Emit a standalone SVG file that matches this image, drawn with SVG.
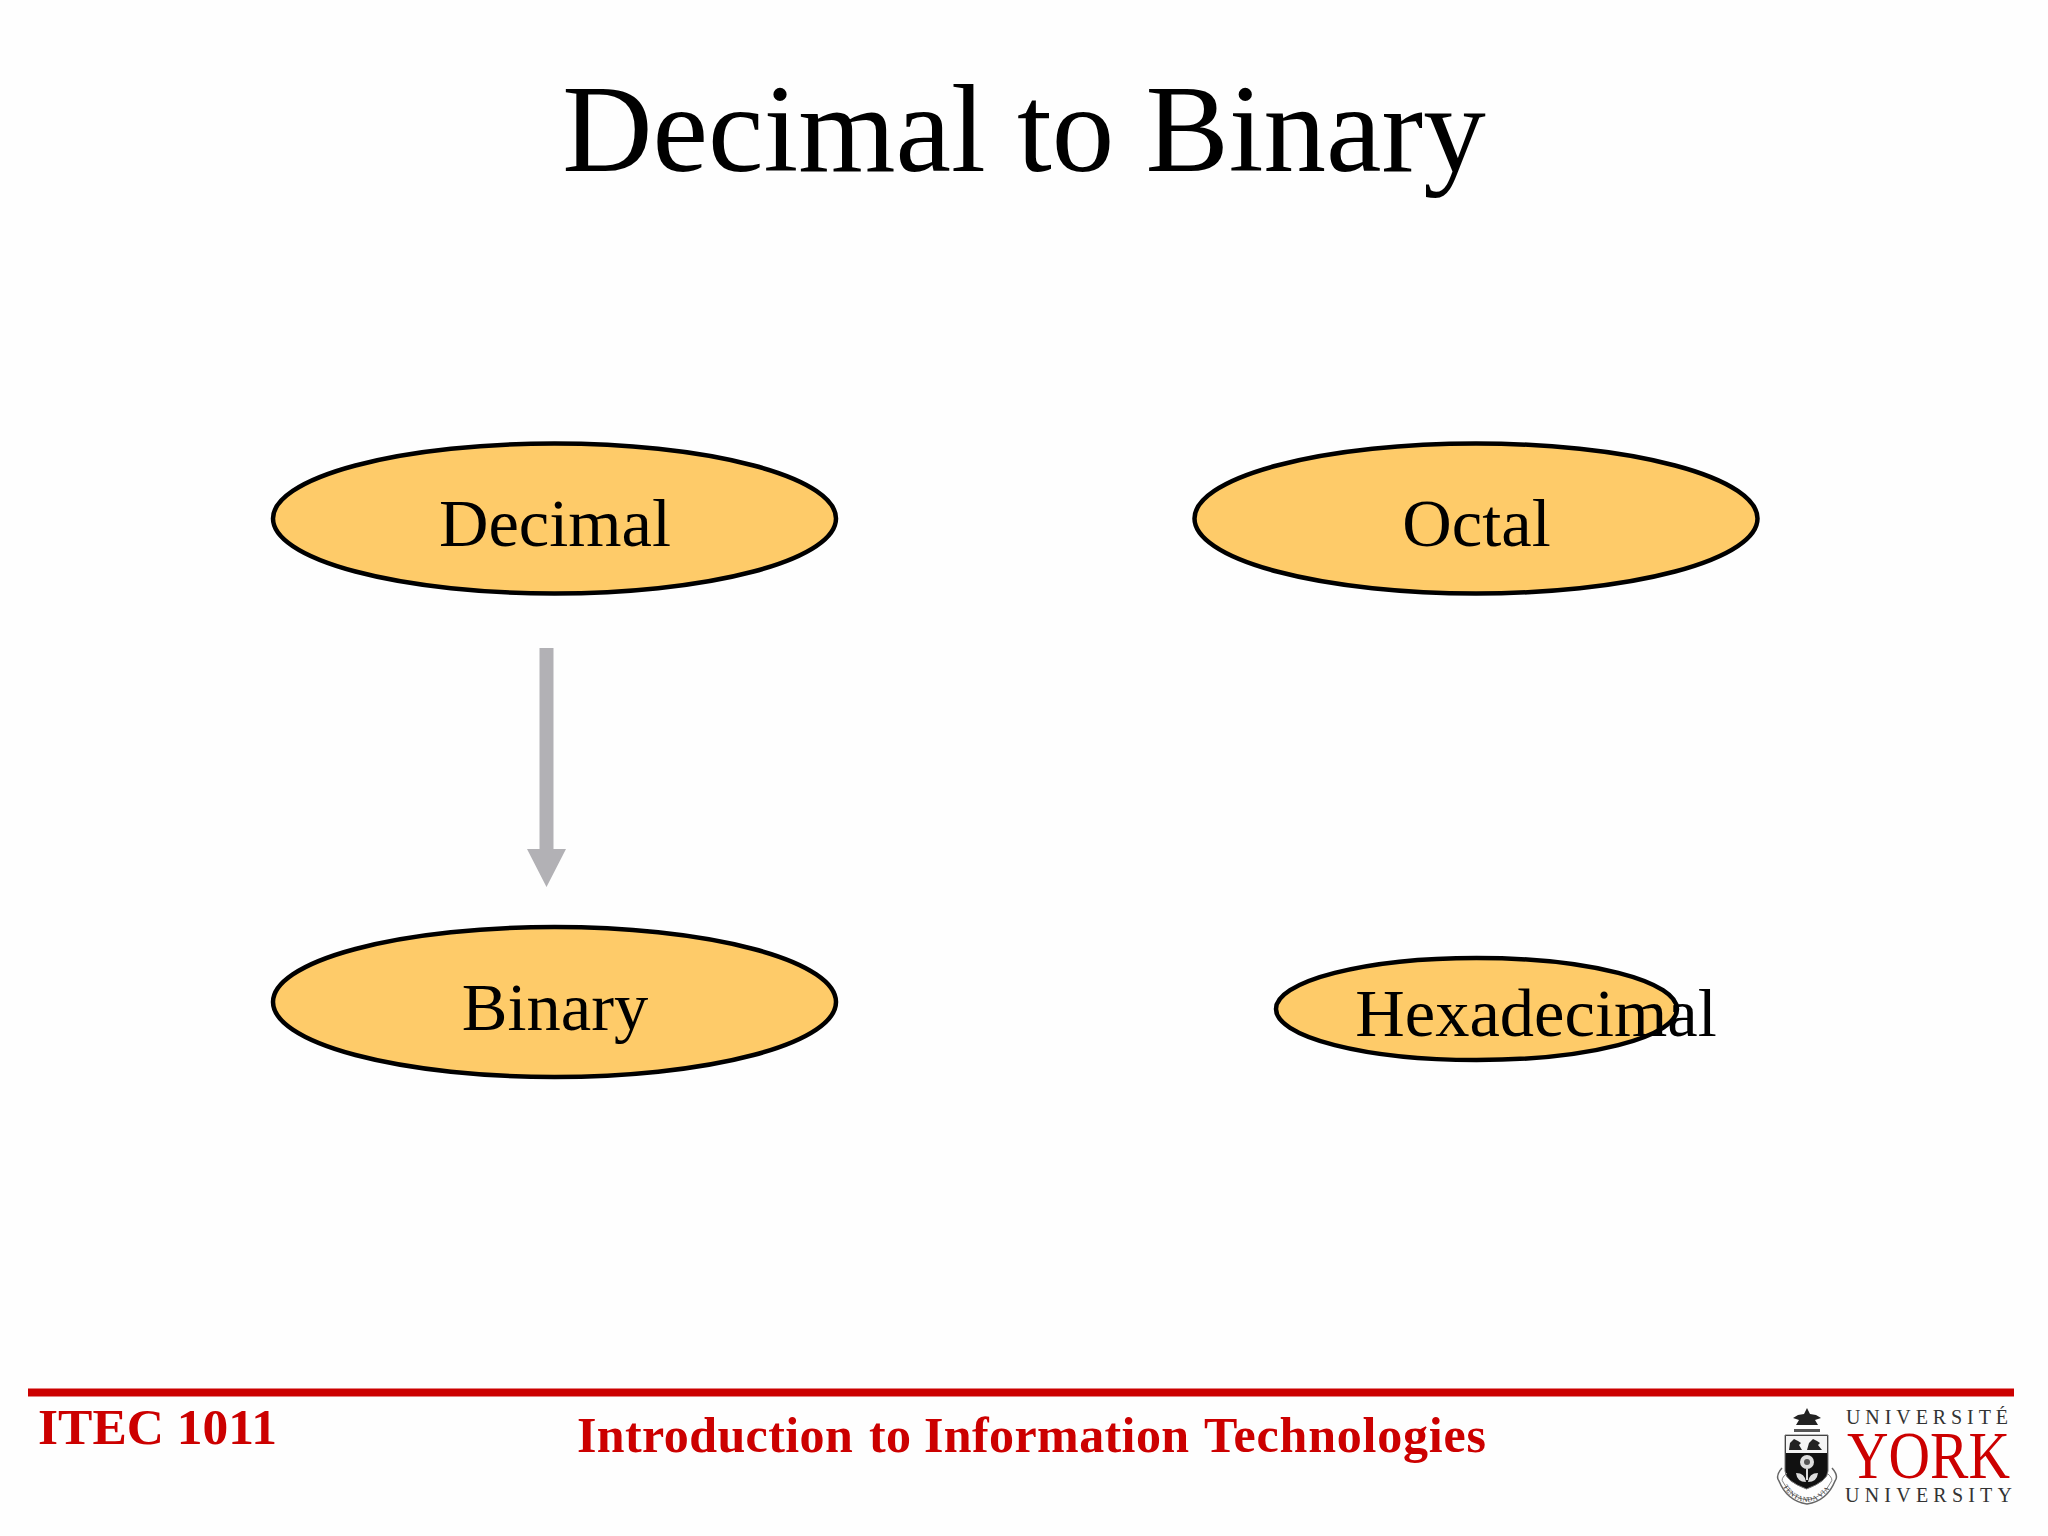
<svg xmlns="http://www.w3.org/2000/svg" width="2048" height="1536" viewBox="0 0 2048 1536">
<defs><path id="rib" d="M1780 1480q8 20 27 22q19-2 27-22"/></defs>
<style>
text{font-family:"Liberation Serif","Times New Roman",serif}
.n ellipse{fill:#fecb69;stroke:#000;stroke-width:4.500}
.n text{font-size:68.500px;fill:#000;text-anchor:middle}
.f{font-weight:bold;fill:#cc0000}
.l{fill:#333;font-size:20px}
</style>
<rect width="2048" height="1536" fill="#fefefe"/>
<text x="1024" y="170.500" font-size="125" text-anchor="middle" fill="#000">Decimal to Binary</text>
<g id="connectors"><path d="M539.500 648h14v201h12.500l-19.500 38-19.500-38h12.500z" fill="#b2b1b5"/></g>
<g id="decimal" class="n"><ellipse cx="554.500" cy="518.500" rx="281.500" ry="75"/><text x="555" y="546">Decimal</text></g>
<g id="octal" class="n"><ellipse cx="1476" cy="518.500" rx="281.500" ry="75"/><text x="1476.500" y="546">Octal</text></g>
<g id="binary" class="n"><ellipse cx="554.500" cy="1002" rx="281.500" ry="75"/><text x="555" y="1030">Binary</text></g>
<g id="hexadecimal" class="n"><ellipse cx="1476.500" cy="1009" rx="200.500" ry="51"/><text x="1536" y="1036">Hexadecimal</text></g>
<rect x="28" y="1388.500" width="1986" height="8" fill="#cc0000"/>
<text class="f" x="38" y="1444" font-size="51.500">ITEC 1011</text>
<text class="f" y="1452" font-size="50"><tspan x="577" letter-spacing=".4">Introduction</tspan> <tspan x="869" letter-spacing=".4">to</tspan> <tspan x="924" letter-spacing=".4">Information</tspan> <tspan x="1204" letter-spacing=".8">Technologies</tspan></text>
<g id="logo">
<path d="M1785 1435h43v36q0 10-21.500 18q-21.500-8-21.500-18z" fill="#111" stroke="#777" stroke-width="1"/>
<rect x="1786" y="1436" width="41" height="17" fill="#f4f4f4"/>
<path d="M1789 1450l1-7 4-4 4 2 3 2-2 2 3 5zM1807 1450l2-7 4-4 4 2 3 2-2 2 4 5z" fill="#222"/>
<circle cx="1807" cy="1462" r="7" fill="#ddd"/>
<circle cx="1807" cy="1462" r="3" fill="#555"/>
<path d="M1807 1469v11" stroke="#ddd" stroke-width="2"/>
<path d="M1796 1473q9 0 10 9q-9 0-10-9zM1818 1473q-9 0-10 9q9 0 10-9z" fill="#ddd"/>
<path d="M1782 1468q-7 8-3 13q8 20 28 23q20-3 28-23q4-5-3-13" fill="none" stroke="#666" stroke-width="1.500"/>
<path d="M1787 1473q-7 6-4 9q8 16 24 18q16-2 24-18q3-3-4-9" fill="none" stroke="#888" stroke-width="1"/>
<path d="M1807 1408l3 6 6 1 5 3-6 2 3 5h-22l3-5-6-2 5-3 6-1z" fill="#222"/>
<path d="M1794 1429h26v3h-26z" fill="#555"/>
<text font-size="7" fill="#333" letter-spacing=".5"><textPath href="#rib" startOffset="7">TENTANDA VIA</textPath></text>
<text class="l" x="1846" y="1424" textLength="162">UNIVERSITÉ</text>
<text x="1847" y="1478" font-size="68" fill="#cc0000" textLength="163" lengthAdjust="spacingAndGlyphs">YORK</text>
<text class="l" x="1845" y="1502" textLength="167">UNIVERSITY</text>
</g>
</svg>
